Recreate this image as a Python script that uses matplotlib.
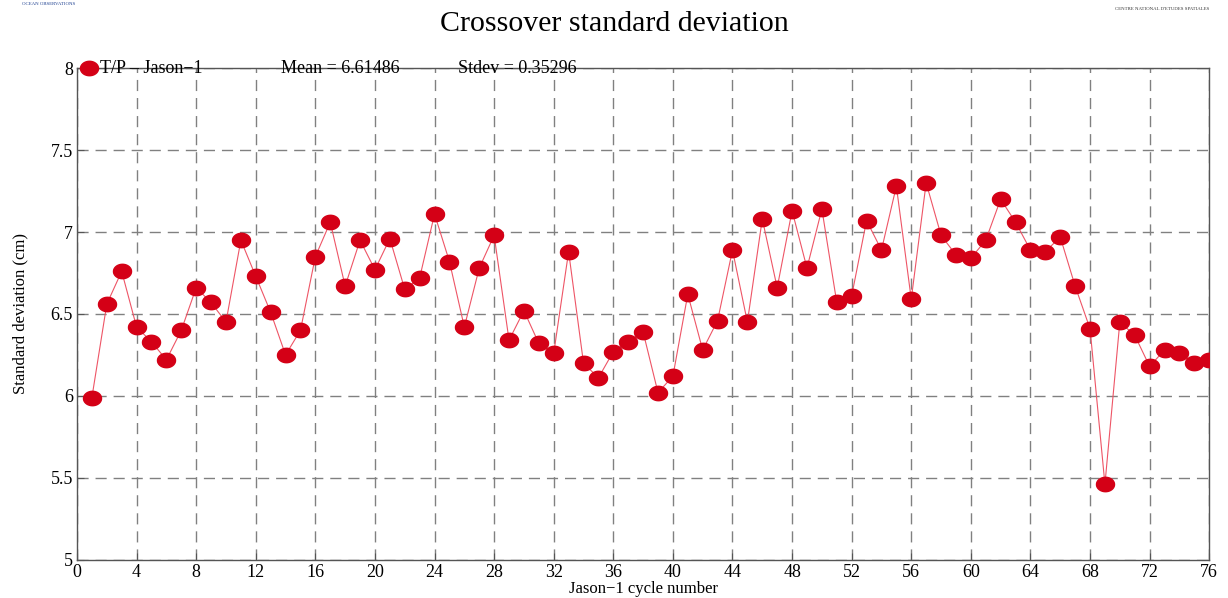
import matplotlib
matplotlib.use("Agg")
import matplotlib.pyplot as plt
from matplotlib.path import Path
import numpy as np

plt.rcParams['font.family'] = ['Liberation Serif', 'DejaVu Serif']

# Jason-1 cycle number and crossover standard deviation (cm)
cycles = list(range(1, 77))
std_dev = [
    5.99, 6.56, 6.76, 6.42, 6.33, 6.22, 6.40, 6.66, 6.57, 6.45,
    6.95, 6.73, 6.51, 6.25, 6.40, 6.85, 7.06, 6.67, 6.95, 6.77,
    6.96, 6.65, 6.72, 7.11, 6.82, 6.42, 6.78, 6.98, 6.34, 6.52,
    6.32, 6.26, 6.88, 6.20, 6.11, 6.27, 6.33, 6.39, 6.02, 6.12,
    6.62, 6.28, 6.46, 6.89, 6.45, 7.08, 6.66, 7.13, 6.78, 7.14,
    6.57, 6.61, 7.07, 6.89, 7.28, 6.59, 7.30, 6.98, 6.86, 6.84,
    6.95, 7.20, 7.06, 6.89, 6.88, 6.97, 6.67, 6.41, 5.46, 6.45,
    6.37, 6.18, 6.28, 6.26, 6.20, 6.22,
]
x_ticks = list(range(0, 77, 4))
y_ticks = [5, 5.5, 6, 6.5, 7, 7.5, 8]
y_tick_labels = ['5', '5.5', '6', '6.5', '7', '7.5', '8']

# slightly flattened ellipse marker
t = np.linspace(0, 2 * np.pi, 40)
ellipse = Path(np.column_stack([np.cos(t), 0.8 * np.sin(t)]), closed=True)

red = '#d40016'

fig = plt.figure(figsize=(12.28, 5.98), dpi=100)
ax = fig.add_axes([0.0627, 0.064, 0.922, 0.822])

ax.plot(cycles, std_dev, color='#ee5566', linewidth=0.8, zorder=2)
ax.plot(cycles, std_dev, linestyle='none', marker=ellipse, markersize=13,
        markerfacecolor=red, markeredgecolor=red, zorder=3)

ax.set_xlim(0, 76)
ax.set_ylim(5, 8)
ax.set_xticks(x_ticks)
ax.set_yticks(y_ticks)
ax.set_yticklabels(y_tick_labels)
ax.tick_params(direction='in', length=5, color='#555555', labelsize=13, pad=3)
ax.grid(True, color='#808080', linestyle=(0, (8, 5)), linewidth=1.0)
for s in ax.spines.values():
    s.set_color('#555555')
    s.set_linewidth(1.0)

ax.set_xlabel('Jason\u22121 cycle number', fontsize=12, labelpad=0)
ax.set_ylabel('Standard deviation (cm)', fontsize=12, labelpad=16)

fig.suptitle('Crossover standard deviation', fontsize=21.5, y=0.982)

# legend / statistics line along the top border
ax.plot([0.8], [8.0], linestyle='none', marker=ellipse, markersize=13,
        markerfacecolor=red, markeredgecolor=red, clip_on=False, zorder=5)
ax.text(1.55, 7.995, 'T/P \u2013 Jason\u22121', fontsize=13, va='center', ha='left')
ax.text(13.7, 7.995, 'Mean = 6.61486', fontsize=13, va='center', ha='left')
ax.text(25.6, 7.995, 'Stdev = 0.35296', fontsize=13, va='center', ha='left')

# agency captions in the corners
fig.text(0.018, 0.996, 'OCEAN OBSERVATIONS', fontsize=3.5, color='#1a3d8f', va='top')
fig.text(0.985, 0.988, "CENTRE NATIONAL D'ETUDES SPATIALES", fontsize=3.5,
         color='#333333', va='top', ha='right')

fig.savefig('out.png', dpi=100)
